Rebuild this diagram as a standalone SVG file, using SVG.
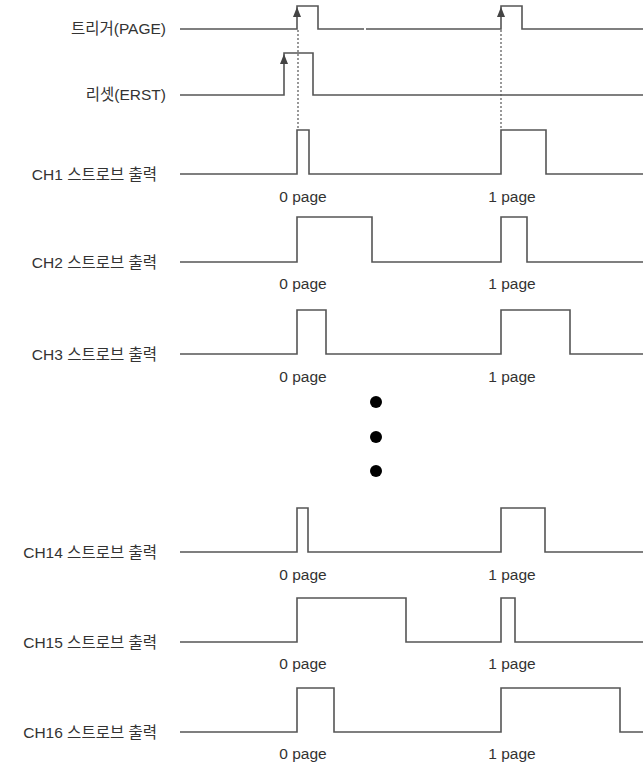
<svg xmlns="http://www.w3.org/2000/svg" width="643" height="765" viewBox="0 0 643 765">
<style>
.w{fill:none;stroke:#555;stroke-width:1.6;stroke-linejoin:miter}
.lbl{font-family:"Liberation Sans","Noto Sans CJK KR",sans-serif;font-size:15.5px;fill:#333;text-anchor:end}
.pg{font-family:"Liberation Sans","Noto Sans CJK KR",sans-serif;font-size:15.5px;fill:#333;text-anchor:middle}
.dot{fill:none;stroke:#555;stroke-width:1.2;stroke-dasharray:2 2}
</style>
<defs>
<marker id="arr" viewBox="0 0 10 8" refX="10" refY="4" markerWidth="10" markerHeight="8" markerUnits="userSpaceOnUse" orient="auto">
<path d="M0,0 L10,4 L0,8 Z" fill="#444"/>
</marker>
</defs>
<rect width="643" height="765" fill="#fff"/>

<g id="trigger">
<text class="lbl" x="166" y="34">트리거(PAGE)</text>
<path class="w" d="M180,29 H297 V6 H318 V29 H364 M366,29 H501 V6 H522 V29 H643"/>
<line x1="297" y1="20" x2="297" y2="7" stroke="none" marker-end="url(#arr)"/>
<line x1="501" y1="20" x2="501" y2="7" stroke="none" marker-end="url(#arr)"/>
</g>

<g id="reset">
<text class="lbl" x="166" y="100">리셋(ERST)</text>
<path class="w" d="M180,95 H284 V53 H313 V95 H643"/>
<line x1="284" y1="66" x2="284" y2="54" stroke="none" marker-end="url(#arr)"/>
</g>

<g id="connectors">
<line class="dot" x1="298" y1="30" x2="298" y2="130"/>
<line class="dot" x1="501" y1="30" x2="501" y2="130"/>
</g>

<g id="ch1">
<text class="lbl" x="157" y="180">CH1 스트로브 출력</text>
<path class="w" d="M180,174 H297 V130 H309 V174 H501 V130 H546 V174 H643"/>
<text class="pg" x="303" y="202">0 page</text>
<text class="pg" x="512" y="202">1 page</text>
</g>

<g id="ch2">
<text class="lbl" x="157" y="268">CH2 스트로브 출력</text>
<path class="w" d="M180,262 H297 V217 H372 V262 H501 V217 H527 V262 H643"/>
<text class="pg" x="303" y="289">0 page</text>
<text class="pg" x="512" y="289">1 page</text>
</g>

<g id="ch3">
<text class="lbl" x="157" y="360">CH3 스트로브 출력</text>
<path class="w" d="M180,354 H297 V310 H326 V354 H501 V310 H570 V354 H643"/>
<text class="pg" x="303" y="382">0 page</text>
<text class="pg" x="512" y="382">1 page</text>
</g>

<g id="ellipsis">
<circle cx="376" cy="402" r="6" fill="#000"/>
<circle cx="376" cy="437" r="6" fill="#000"/>
<circle cx="376" cy="471" r="6" fill="#000"/>
</g>

<g id="ch14">
<text class="lbl" x="157" y="558">CH14 스트로브 출력</text>
<path class="w" d="M180,552 H297 V508 H308 V552 H501 V508 H545 V552 H643"/>
<text class="pg" x="303" y="580">0 page</text>
<text class="pg" x="512" y="580">1 page</text>
</g>

<g id="ch15">
<text class="lbl" x="157" y="648">CH15 스트로브 출력</text>
<path class="w" d="M180,642 H297 V598 H406 V642 H501 V598 H515 V642 H643"/>
<text class="pg" x="303" y="669">0 page</text>
<text class="pg" x="512" y="669">1 page</text>
</g>

<g id="ch16">
<text class="lbl" x="157" y="738">CH16 스트로브 출력</text>
<path class="w" d="M180,732 H297 V688 H334 V732 H501 V688 H620 V732 H643"/>
<text class="pg" x="303" y="759">0 page</text>
<text class="pg" x="512" y="759">1 page</text>
</g>
</svg>
